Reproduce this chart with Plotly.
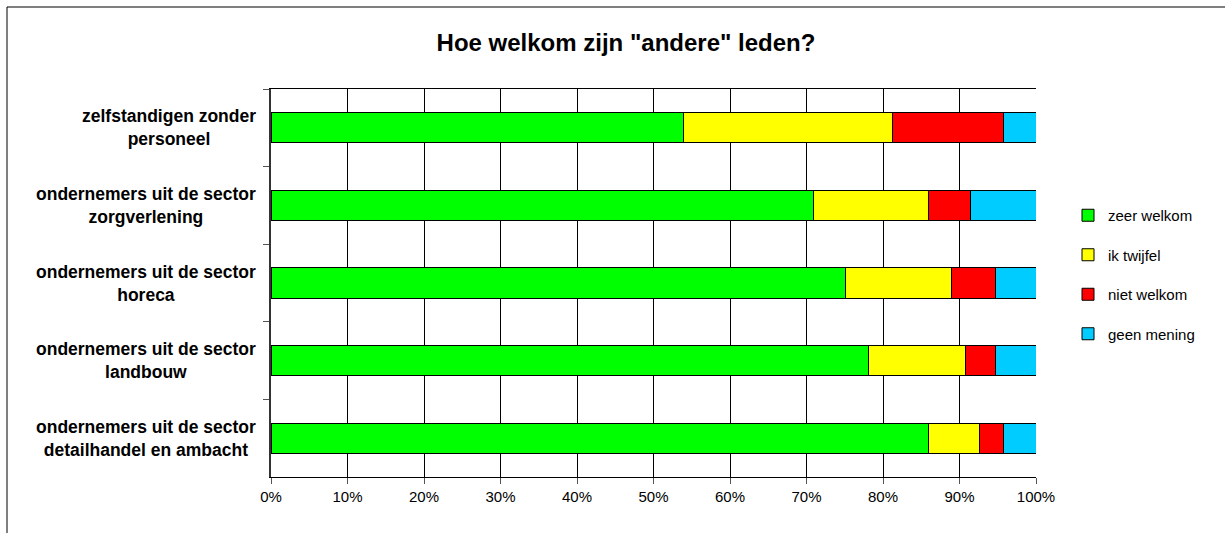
import plotly.graph_objects as go

categories = [
    "zelfstandigen zonder<br>personeel",
    "ondernemers uit de sector<br>zorgverlening",
    "ondernemers uit de sector<br>horeca",
    "ondernemers uit de sector<br>landbouw",
    "ondernemers uit de sector<br>detailhandel en ambacht",
]
zeer_welkom = [53.9, 70.9, 75.1, 78.1, 86.0]
ik_twijfel = [27.4, 15.1, 13.9, 12.7, 6.6]
niet_welkom = [14.5, 5.5, 5.7, 3.9, 3.2]
geen_mening = [4.2, 8.5, 5.3, 5.3, 4.2]
x_ticks = list(range(0, 101, 10))
x_ticktext = ["%d%%" % v for v in x_ticks]
title_text = 'Hoe welkom zijn "andere" leden?'

series = [
    ("zeer welkom", zeer_welkom, "#00FF00"),
    ("ik twijfel", ik_twijfel, "#FFFF00"),
    ("niet welkom", niet_welkom, "#FF0000"),
    ("geen mening", geen_mening, "#00CCFF"),
]

FONT = "Liberation Sans, Arial, sans-serif"
W, H = 1225, 533
L, R, T, B = 271, 189, 89, 56
pw, ph = W - L - R, H - T - B

fig = go.Figure()
for name, vals, col in series:
    fig.add_trace(go.Bar(
        y=categories, x=vals, name=name, orientation="h",
        marker=dict(color=col, line=dict(color="black", width=1)),
        legendgroup=name, hoverinfo="x+name",
    ))

annotations = []
for cat in categories:
    annotations.append(dict(
        x=(258 - L) / pw, xref="paper", y=cat, yref="y",
        text="<b>%s</b>" % cat, showarrow=False, xanchor="right",
        yanchor="middle", align="center",
        font=dict(family=FONT, size=17.5, color="black"),
    ))

fig.update_layout(
    width=W, height=H,
    margin=dict(l=L, r=R, t=T, b=B, autoexpand=False),
    paper_bgcolor="white", plot_bgcolor="white",
    barmode="stack", bargap=0.613,
    title=dict(text="<b>%s</b>" % title_text, x=626 / W, xref="container",
               xanchor="center", y=1 - 43 / H, yref="container", yanchor="middle",
               font=dict(family=FONT, size=24, color="black")),
    font=dict(family=FONT, size=15, color="black"),
    showlegend=True,
    legend=dict(x=(1068 - L) / pw, xanchor="left", y=(H - B - 199) / ph, yanchor="top",
                traceorder="grouped", tracegroupgap=17,
                font=dict(family=FONT, size=15, color="black"),
                bgcolor="rgba(0,0,0,0)", itemwidth=30),
    annotations=annotations,
    shapes=[dict(type="rect", xref="paper", yref="paper",
                 x0=(7 - L) / pw, x1=(W + 20 - L) / pw,
                 y0=(H - B - (H + 20)) / ph, y1=(H - B - 7) / ph,
                 line=dict(color="black", width=1), fillcolor="rgba(0,0,0,0)",
                 layer="below")],
)
fig.update_xaxes(
    range=[0, 100], tickvals=x_ticks, ticktext=x_ticktext,
    showgrid=True, gridcolor="black", gridwidth=1,
    showline=True, linecolor="black", linewidth=1, mirror=True,
    ticks="outside", ticklen=6, tickcolor="#555", zeroline=False,
    tickfont=dict(family=FONT, size=15, color="black"),
    fixedrange=True,
)
fig.update_yaxes(
    autorange="reversed", showticklabels=False,
    tickson="boundaries", ticks="outside", ticklen=6, tickcolor="#555",
    showline=True, linecolor="#333", linewidth=2, mirror=False,
    showgrid=False, fixedrange=True,
)

fig.write_html("out.html", post_script="document.body.style.margin='0';",
               config={"displayModeBar": False})
